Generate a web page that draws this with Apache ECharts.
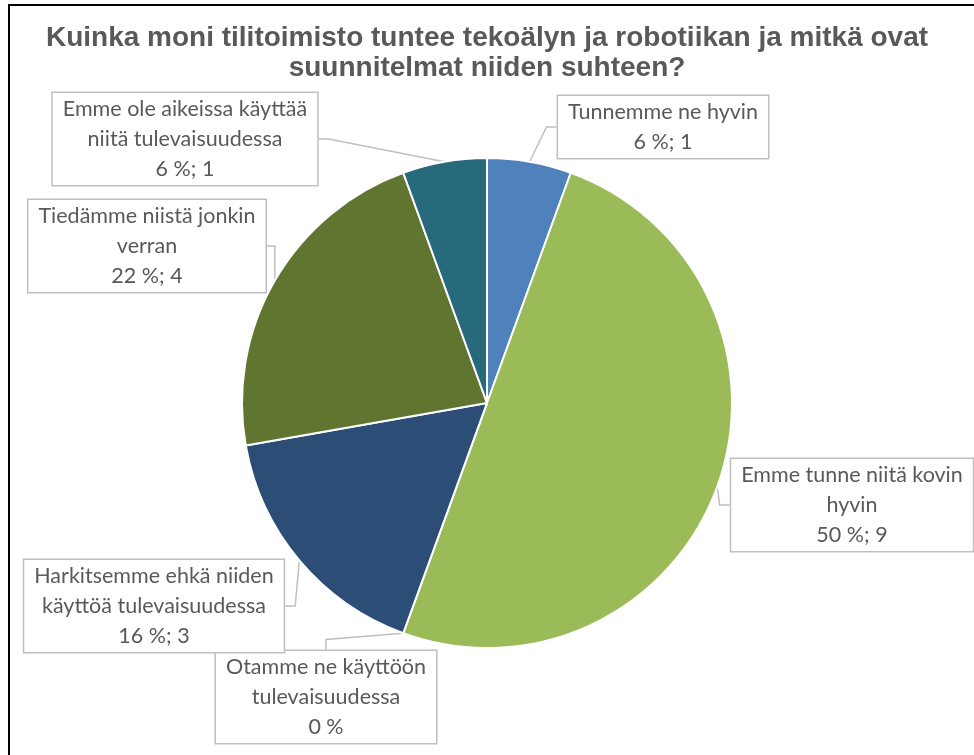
<!DOCTYPE html>
<html>
<head>
    <meta charset="utf-8">
    <title>Tekoäly ja robotiikka</title>
    <script src="https://cdn.jsdelivr.net/npm/echarts@6/dist/echarts.min.js"></script>
    <style>
        html, body { margin: 0; padding: 0; background: #fff; }
        #frame { position: absolute; left: 8px; top: 4px; width: 966px; height: 751px;
                 border-top: 2px solid #000; border-left: 2px solid #000; box-sizing: border-box; }
        #chart { position: absolute; left: 0; top: 0; width: 974px; height: 755px; }
    </style>
</head>
<body>
    <div id="frame"></div>
    <div id="chart"></div>
    <script>
    // vastausvaihtoehdot (rivitys kuten kuvassa)
    var categories = [
        'Tunnemme ne hyvin',
        'Emme tunne niitä kovin\nhyvin',
        'Otamme ne käyttöön\ntulevaisuudessa',
        'Harkitsemme ehkä niiden\nkäyttöä tulevaisuudessa',
        'Tiedämme niistä jonkin\nverran',
        'Emme ole aikeissa käyttää\nniitä tulevaisuudessa'
    ];
    var counts = [1, 9, 0, 3, 4, 1];
    var percents = [6, 50, 0, 16, 22, 6];
    var colors = ['#4f81bd', '#9bbb59', '#8064a2', '#2c4d75', '#5f7530', '#276a7c'];
    var titleLines = [
        'Kuinka moni tilitoimisto tuntee tekoälyn ja robotiikan ja mitkä ovat',
        'suunnitelmat niiden suhteen?'
    ];

    // label box centres
    var labelPos = [
        [663, 127],
        [852, 505],
        [326, 697],
        [154, 606],
        [147, 246],
        [185, 139]
    ];

    var data = categories.map(function (name, i) {
        return { name: name, value: counts[i], itemStyle: { color: colors[i] } };
    });

    var chart = echarts.init(document.getElementById('chart'));
    chart.setOption({
        animation: false,
        title: titleLines.map(function (t, i) {
            return {
                text: t,
                left: 'center',
                top: 24 + i * 30,
                padding: 0,
                textStyle: {
                    fontFamily: 'Liberation Sans, Arial',
                    fontSize: 28,
                    fontWeight: 'bold',
                    color: '#595959'
                }
            };
        }),
        series: [{
            type: 'pie',
            center: [487, 403],
            radius: 245,
            startAngle: 90,
            clockwise: true,
            avoidLabelOverlap: false,
            itemStyle: { borderColor: '#fff', borderWidth: 2 },
            label: {
                show: true,
                position: 'outside',
                fontFamily: 'Lato, Noto Sans, sans-serif',
                fontSize: 21.5,
                lineHeight: 30,
                color: '#595959',
                align: 'center',
                backgroundColor: '#fff',
                borderColor: '#bfbfbf',
                borderWidth: 1.5,
                padding: [1, 10, 1, 10],
                formatter: function (p) {
                    var i = p.dataIndex;
                    var tail = counts[i] > 0 ? percents[i] + ' %; ' + counts[i] : percents[i] + ' %';
                    return p.name + '\n' + tail;
                }
            },
            labelLine: {
                show: true,
                length: 10,
                length2: 10,
                lineStyle: { color: '#bfbfbf', width: 1.5 }
            },
            labelLayout: function (params) {
                var pos = labelPos[params.dataIndex];
                return {
                    x: pos[0],
                    y: pos[1],
                    align: 'center',
                    verticalAlign: 'middle'
                };
            },
            emphasis: { disabled: true },
            data: data
        }]
    });
    </script>
</body>
</html>
